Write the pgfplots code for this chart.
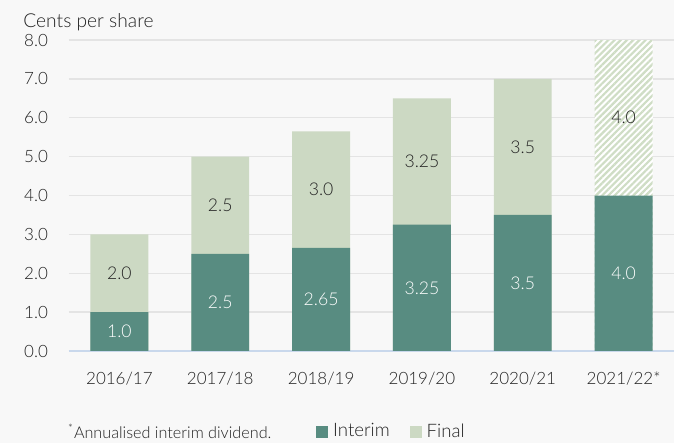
\documentclass[border=0pt]{standalone}
\usepackage{fontspec}
\setmainfont{Lato}[UprightFont=* Light]
\usepackage{pgfplots}
\pgfplotsset{compat=1.18}
\usetikzlibrary{patterns.meta}
\definecolor{bgc}{HTML}{F8F8F8}
\definecolor{interimc}{HTML}{588C81}
\definecolor{finalc}{HTML}{CCD9C3}
\definecolor{hatchc}{HTML}{CFDDC5}
\definecolor{gridc}{HTML}{E4E4E4}
\definecolor{zeroc}{HTML}{C9D8EC}
\definecolor{txt}{HTML}{222222}
\begin{document}
\begin{tikzpicture}[font=\fontsize{8.5}{10}\selectfont]
\fill[bgc] (-34.5pt,-46pt) rectangle (302.5pt,175.5pt);
\begin{axis}[
  at={(0,0)}, anchor=south west,
  scale only axis, width=302.5pt, height=155.5pt,
  xmin=-0.5, xmax=5.5, ymin=0, ymax=8,
  axis line style={draw=none},
  major tick length=0pt,
  xtick={0,...,5},
  xticklabels={2016/17,2017/18,2018/19,2019/20,2020/21,2021/22*},
  ytick={0,...,8},
  yticklabel={\pgfmathprintnumber[fixed,fixed zerofill,precision=1]{\tick}},
  /pgf/number format/assume math mode=true,
  ymajorgrids, grid style={gridc, line width=0.7pt},
  extra y ticks={0}, extra y tick labels={},
  extra y tick style={grid style={zeroc, line width=1pt}},
  yticklabel style={xshift=-7pt, text=txt},
  xticklabel style={yshift=-7pt, text=txt},
  clip=false,
  legend image code/.code={\fill[#1, draw=none] (0pt,-3pt) rectangle (6pt,3pt);},
  legend style={at={(rel axis cs:0.398,-0.26)}, anchor=west, draw=none, fill=none,
    legend columns=2, text=txt, font=\fontsize{9.3}{11}\selectfont,
    nodes={inner sep=2.5pt},
    /tikz/every even column/.append style={column sep=7.5pt}},
]
\addplot[ybar, bar width=0.575, bar shift=0pt, fill=finalc, draw=none, forget plot]
  coordinates {(0,3.0) (1,5.0) (2,5.65) (3,6.5) (4,7.0)};
\addplot[ybar, bar width=0.575, bar shift=0pt, fill=white, draw=none, forget plot,
  postaction={pattern={Lines[angle=45,distance=2.2pt,line width=1.1pt]}, pattern color=hatchc}]
  coordinates {(5,8.0)};
\addplot[ybar, bar width=0.575, bar shift=0pt, fill=interimc, draw=none, forget plot]
  coordinates {(0,1.0) (1,2.5) (2,2.65) (3,3.25) (4,3.5) (5,4.0)};
% labels
\addplot[draw=none, mark=none, forget plot, nodes near coords, point meta=explicit symbolic,
  every node near coord/.style={anchor=center, text=white, font=\fontsize{8.8}{10}\selectfont}]
  table[meta=label] {
x y label
0 0.5 1.0
1 1.25 2.5
2 1.325 2.65
3 1.625 3.25
4 1.75 3.5
5 2.0 4.0
};
\addplot[draw=none, mark=none, forget plot, nodes near coords, point meta=explicit symbolic,
  every node near coord/.style={anchor=center, text=txt, font=\fontsize{8.8}{10}\selectfont}]
  table[meta=label] {
x y label
0 2.0 2.0
1 3.75 2.5
2 4.15 3.0
3 4.875 3.25
4 5.25 3.5
5 6.0 4.0
};
\addlegendimage{fill=interimc, draw=none}
\addlegendentry{Interim}
\addlegendimage{fill=finalc, draw=none}
\addlegendentry{Final}
\node[anchor=base west, text=txt, inner sep=0pt, font=\fontsize{9.6}{11}\selectfont] at (axis description cs:-0.076,1.04) {Cents per share};
\node[anchor=base west, text=txt, inner sep=0pt, font=\fontsize{8.1}{9}\selectfont] at (axis description cs:-0.002,-0.28) {\textsuperscript{*}Annualised interim dividend.};
\end{axis}
\pgfresetboundingbox
\path[use as bounding box] (-34.5pt,-46pt) rectangle (302.5pt,175.5pt);
\end{tikzpicture}
\end{document}
